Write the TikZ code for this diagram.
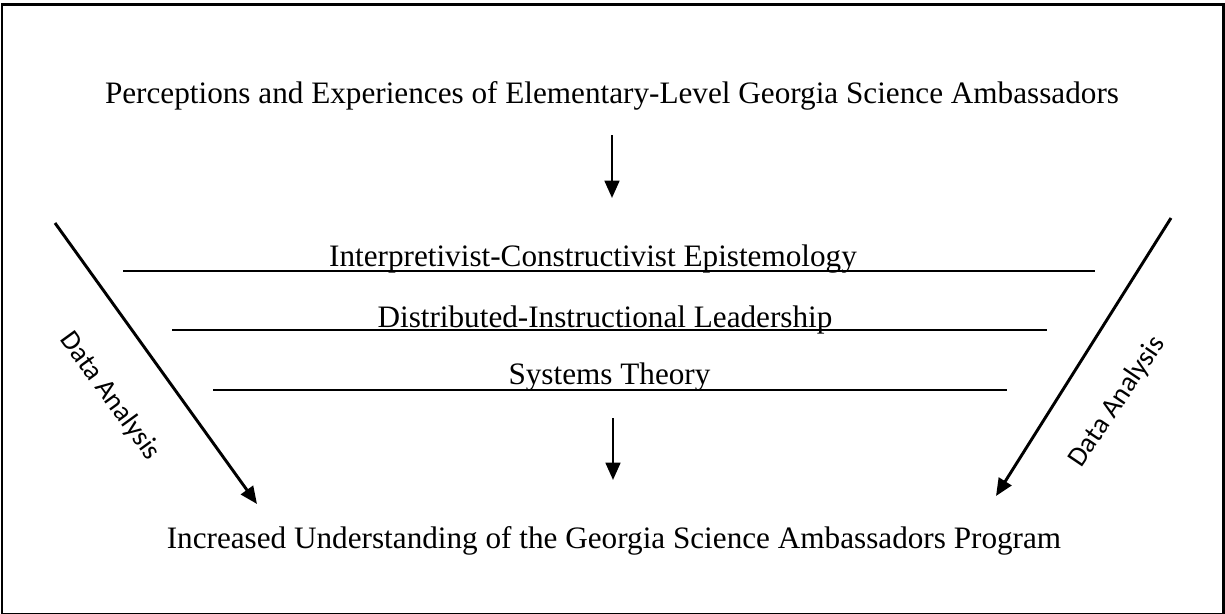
\documentclass[tikz,border=0pt]{standalone}
\usepackage{fontspec}
\setmainfont{Liberation Serif}
\newfontfamily\dalabelfont{Carlito}
\usetikzlibrary{arrows.meta}

\tikzset{every picture/.style={line width=0.75pt}}
\tikzset{
	bigtext/.style={font=\fontsize{23.4}{28}\selectfont, inner sep=0pt, anchor=base},
	salabel/.style={font=\dalabelfont\fontsize{21}{25}\selectfont, inner sep=0pt},
	tierline/.style={line width=1.3pt},
	downarrow/.style={line width=2pt, -{Triangle[length=13pt,width=11pt]}},
	diagarrow/.style={line width=2.2pt, -{Triangle[length=13pt,width=11pt]}}
}

\begin{document}
\begin{tikzpicture}[x=0.75pt,y=0.75pt,yscale=-1,xscale=1]
	\useasboundingbox (0,0) rectangle (1225,614);

	%Shape: Rectangle [id:frame]
	\draw [line width=2.2pt] (2,4.5) rectangle (1223.5,614);

	%Text nodes
	\node [bigtext] (percep) at (612,103) {Perceptions and Experiences of Elementary-Level Georgia Science Ambassadors};
	\node [bigtext] (epist) at (593,266) {Interpretivist-Constructivist Epistemology};
	\node [bigtext] (leader) at (605,327) {Distributed-Instructional Leadership};
	\node [bigtext] (systems) at (609.5,384) {Systems Theory};
	\node [bigtext] (understand) at (614,548) {Increased Understanding of the Georgia Science Ambassadors Program};

	%Straight Lines [id:tiers]
	\coordinate (epistL) at (123,270.7); \coordinate (epistR) at (1095,270.7);
	\coordinate (leaderL) at (172,330); \coordinate (leaderR) at (1047,330);
	\coordinate (systemsL) at (213,390); \coordinate (systemsR) at (1007,390);
	\draw [tierline] (epistL) -- (epistR) ;
	\draw [tierline] (leaderL) -- (leaderR) ;
	\draw [tierline] (systemsL) -- (systemsR) ;

	%Straight Lines [id:downarrows]
	\coordinate (topA) at (612,135); \coordinate (topB) at (612,198);
	\coordinate (midA) at (613,418); \coordinate (midB) at (613,480);
	\draw [downarrow] (topA) -- (topB) ;
	\draw [downarrow] (midA) -- (midB) ;

	%Straight Lines [id:dataanalysis]
	\coordinate (leftA) at (55,223); \coordinate (leftB) at (257,504);
	\coordinate (rightA) at (1171,218); \coordinate (rightB) at (996,496);
	\draw [diagarrow] (leftA) -- (leftB) ;
	\draw [diagarrow] (rightA) -- (rightB) ;

	\node [salabel, rotate=-54] (daleft) at (110,396) {Data Analysis};
	\node [salabel, rotate=56] (daright) at (1117,402) {Data Analysis};

\end{tikzpicture}
\end{document}
